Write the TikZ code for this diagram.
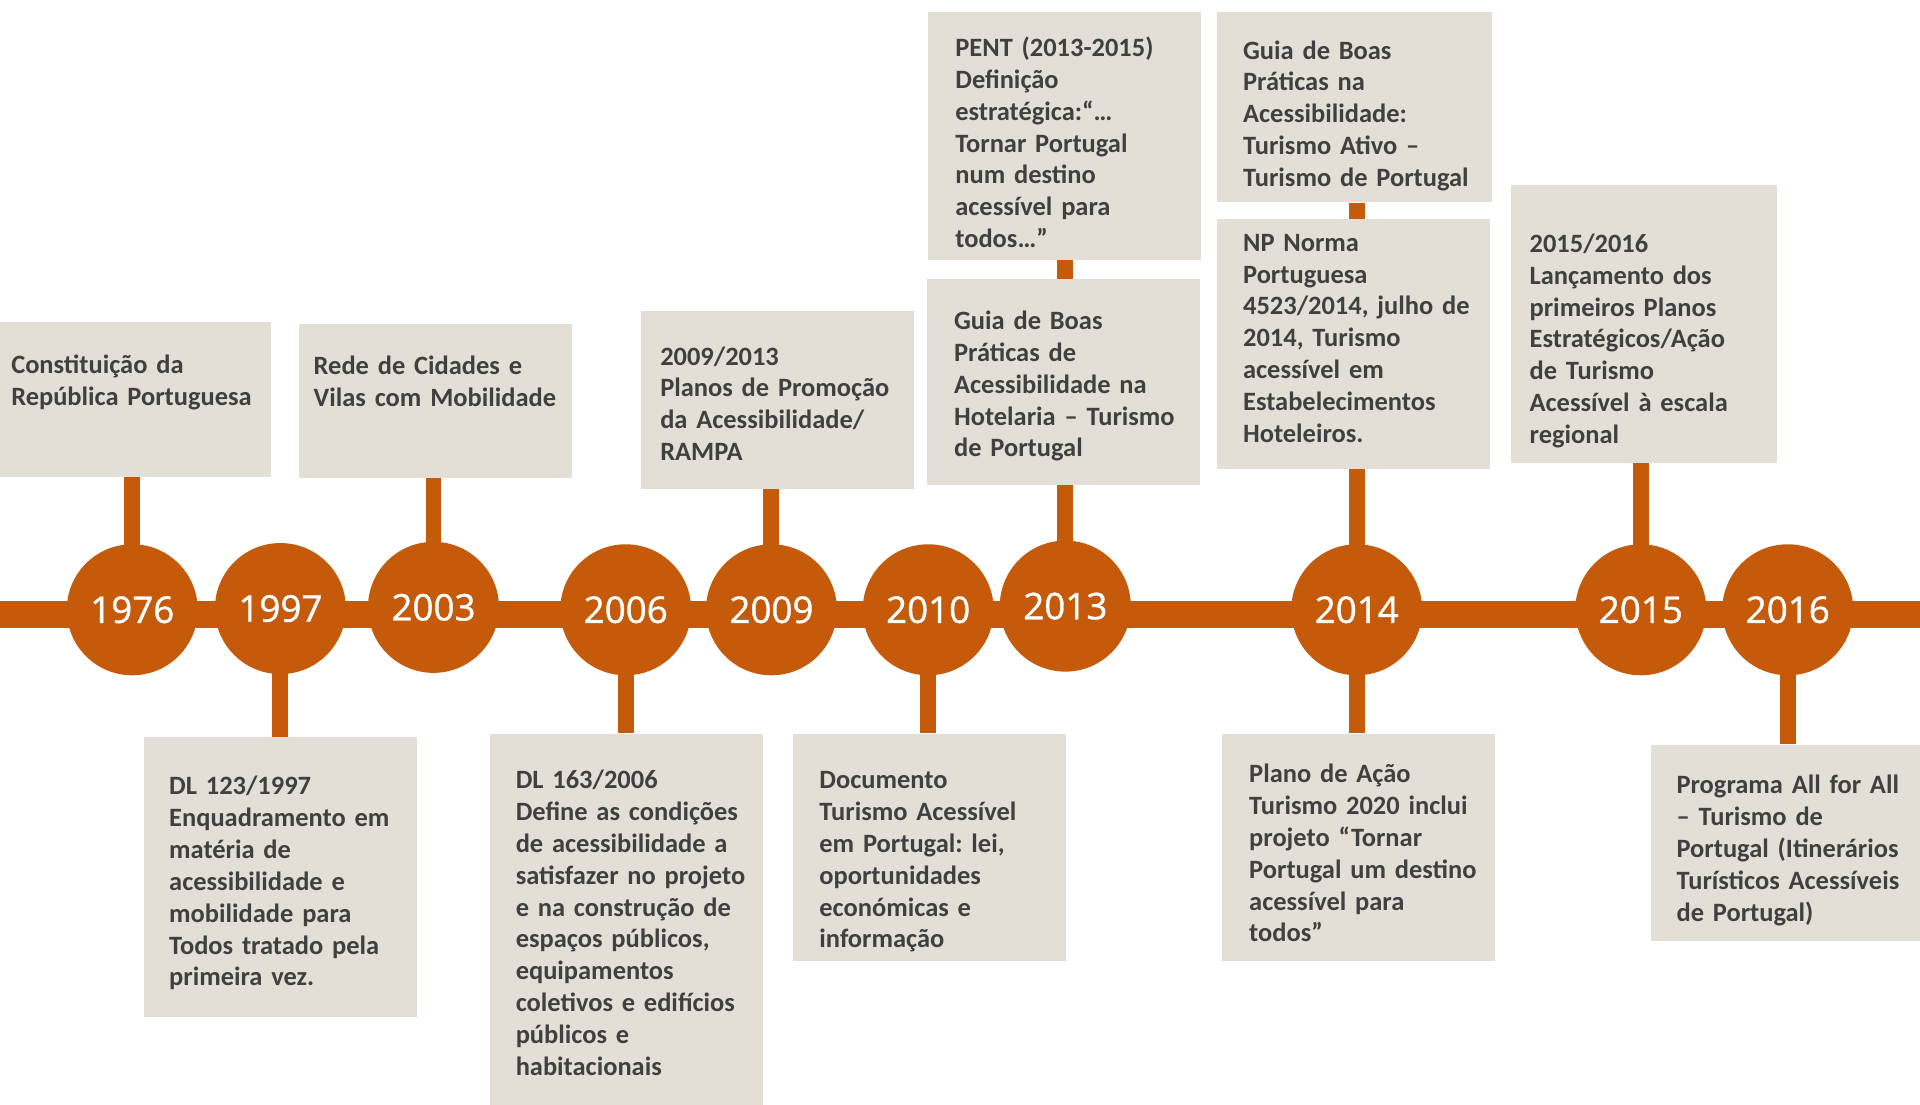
\documentclass[tikz,border=0pt]{standalone}
\usepackage{fontspec}
\setmainfont{Carlito}
\newfontfamily\yearfont{Open Sans}[FakeBold=1]
\frenchspacing
\usetikzlibrary{backgrounds}
\definecolor{tlorange}{HTML}{C55A0A}
\definecolor{cardfill}{HTML}{E3DFD6}
\definecolor{cardink}{HTML}{404040}
\tikzset{
    x=1pt, y=1pt,
    yearball/.style={circle, fill=tlorange, text=white, minimum size=107, inner sep=0pt,
        font=\yearfont\fontsize{30}{36}\selectfont}, % the year discs on the time line
    card/.style 2 args={rectangle, fill=cardfill, text=cardink, align=left, text width=223,
        inner sep=0pt, anchor=north west, text height=#1, text depth={#2-#1},
        font=\fontsize{21.6}{26}\selectfont\bfseries}, % grey boxes: #1 = top to first baseline, #2 = height
    pad/.style={execute at begin node={\leftskip=#1pt}}, % left indent of the card text
    stem/.style={draw=tlorange, line width=13},
    bar/.style={draw=tlorange, line width=22},
}

\begin{document}
\begin{tikzpicture}
    \useasboundingbox (0,0) rectangle (1568,902);

    % years
    \node[yearball] (y1976) at (108,404) {1976};
    \node[yearball] (y1997) at (229,405) {1997};
    \node[yearball] (y2003) at (354,406) {2003};
    \node[yearball] (y2006) at (511,404) {2006};
    \node[yearball] (y2009) at (630,404) {2009};
    \node[yearball] (y2010) at (758,404) {2010};
    \node[yearball] (y2013) at (870,407) {2013};
    \node[yearball] (y2014) at (1108,404) {2014};
    \node[yearball] (y2015) at (1340,404) {2015};
    \node[yearball] (y2016) at (1460,404) {2016};

    % cards above the line
    \node[card={42}{126}, pad=11] (constituicao) at (-2,639) {Constituição da\\República Portuguesa};
    \node[card={42}{126}, pad=12] (rede) at (244,638) {Rede de Cidades e\\Vilas com Mobilidade};
    \node[card={44}{145}, pad=16] (promocao) at (523,648) {2009/2013\\Planos de Promoção\\da Acessibilidade/\\RAMPA};
    \node[card={36}{202}, pad=22] (pent) at (758,892) {PENT (2013-2015)\\Definição\\estratégica:“…\\Tornar Portugal\\num destino\\acessível para\\todos…”};
    \node[card={41}{168}, pad=22] (guiahotel) at (757,674) {Guia de Boas\\Práticas de\\Acessibilidade na\\Hotelaria – Turismo\\de Portugal};
    \node[card={38}{155}, pad=21, text width=224] (guiaativo) at (994,892) {Guia de Boas\\Práticas na\\Acessibilidade:\\Turismo Ativo –\\Turismo de Portugal};
    \node[card={26}{204}, pad=21] (norma) at (994,723) {NP Norma\\Portuguesa\\4523/2014, julho de\\2014, Turismo\\acessível em\\Estabelecimentos\\Hoteleiros.};
    \node[card={55}{227}, pad=15, text width=217] (lancamento) at (1234,751) {2015/2016\\Lançamento dos\\primeiros Planos\\Estratégicos/Ação\\de Turismo\\Acessível à escala\\regional};

    % cards below the line
    \node[card={47}{228}, pad=21] (dl1997) at (117,300) {DL 123/1997\\Enquadramento em\\matéria de\\acessibilidade e\\mobilidade para\\Todos tratado pela\\primeira vez.};
    \node[card={45}{306}, pad=21] (dl2006) at (400,303) {DL 163/2006\\Define as condições\\de acessibilidade a\\satisfazer no projeto\\e na construção de\\espaços públicos,\\equipamentos\\coletivos e edifícios\\públicos e\\habitacionais};
    \node[card={45}{186}, pad=22] (documento) at (647,303) {Documento\\Turismo Acessível\\em Portugal: lei,\\oportunidades\\económicas e\\informação};
    \node[card={40}{186}, pad=22] (planoacao) at (998,303) {Plano de Ação\\Turismo 2020 inclui\\projeto “Tornar\\Portugal um destino\\acessível para\\todos”};
    \node[card={40}{160}, pad=21] (programa) at (1348,294) {Programa All for All\\– Turismo de\\Portugal (Itinerários\\Turísticos Acessíveis\\de Portugal)};

    % time line and stems, behind the discs
    \coordinate (lineL) at (-5,400);
    \coordinate (lineR) at (1573,400);
    \begin{scope}[on background layer]
        \draw[bar] (lineL) -- (lineR);
        \draw[stem] (y1976.center) -- (y1976 |- constituicao.south);
        \draw[stem] (y2003.center) -- (y2003 |- rede.south);
        \draw[stem] (y2009.center) -- (y2009 |- promocao.south);
        \draw[stem] (y2013.center) -- (y2013 |- guiahotel.south);
        \draw[stem] (y2013 |- pent.south) -- (y2013 |- guiahotel.north);
        \draw[stem] (y2014.center) -- (y2014 |- norma.south);
        \draw[stem] (y2014 |- guiaativo.south) -- (y2014 |- norma.north);
        \draw[stem] (y2015.center) -- (y2015 |- lancamento.south);
        \draw[stem] (y1997.center) -- (y1997 |- dl1997.north);
        \draw[stem] (y2006.center) -- (y2006 |- dl2006.north);
        \draw[stem] (y2010.center) -- (y2010 |- documento.north);
        \draw[stem] (y2014.center) -- (y2014 |- planoacao.north);
        \draw[stem] (y2016.center) -- (y2016 |- programa.north);
    \end{scope}
\end{tikzpicture}
\end{document}
